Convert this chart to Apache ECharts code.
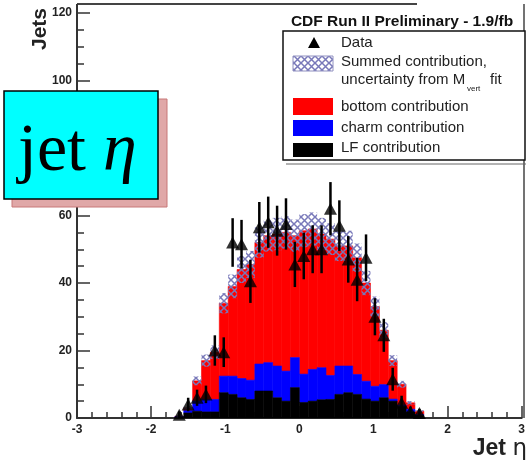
<!DOCTYPE html>
<html><head><meta charset="utf-8">
<script src="https://cdn.jsdelivr.net/npm/echarts@6/dist/echarts.min.js"></script>
<style>html,body{margin:0;padding:0;background:#fff}#c{width:528px;height:462px}</style>
</head><body><div id="c"></div>
<script>
// ---- data ----
const binCenters = [-1.62,-1.50,-1.38,-1.26,-1.14,-1.02,-0.90,-0.78,-0.66,-0.54,-0.42,-0.30,-0.18,-0.06,
                     0.06, 0.18, 0.30, 0.42, 0.54, 0.66, 0.78, 0.90, 1.02, 1.14, 1.26, 1.38, 1.50, 1.62];
const binWidth = 0.12;
const lfValues     = [0.2,1.5,2,1.8,1.8,7.5,7,6,5.5,8,8,6,5,9,4.6,5,5.4,5.5,7,7.5,7,5.6,5,6,5,3.5,1.8,0.8];
const charmValues  = [0.2,0.7,3,3.7,3.7,4.9,5.4,5.7,5.7,8,8.4,9.4,8.9,8.9,8.4,9.4,9.5,7.1,8.4,7.9,5.9,5.3,4.4,3.9,0.6,0.3,0.8,0.2];
const bottomValues = [0.1,0.8,6,11.5,14,21.6,26.6,32.3,34.3,36,37.6,39.1,41.1,36.1,42.5,41.6,39.6,40.4,35.6,35.6,34.6,29.1,23.6,16.1,11.4,6.2,1.9,1];
const sumUnc       = [0.3,0.5,1.3,1.8,2,3,3.5,4,4,4.5,4.7,4.8,4.8,4.8,4.9,4.9,4.8,4.7,4.5,4.5,4.2,3.6,3,2.4,1.6,1,0.5,0.3];
const dataValues   = [1,4,6,7,20,19.5,52,51.5,40.5,56.5,58,55.5,57.5,45.5,48,50,50,62,57,47,41,47.5,30,24.5,11.5,4.5,2,1.5];
const dataErr      = [1,2,2.4,2.6,4.5,4.4,7.2,7.2,6.4,7.5,7.6,7.4,7.6,6.7,6.9,7.1,7.1,7.9,7.5,6.9,6.4,6.9,5.5,4.9,3.4,2.1,1.4,1.2];
const xRange = [-3, 3];
const yRange = [0, 120];

// ---- hatch pattern for the summed-uncertainty band ----
const hatch = document.createElement('canvas');
hatch.width = 7; hatch.height = 7;
(function(){
  const g = hatch.getContext('2d');
  g.strokeStyle = 'rgba(120,120,185,1)';
  g.lineWidth = 1.5;
  g.beginPath();
  g.moveTo(0,0); g.lineTo(7,7);
  g.moveTo(7,0); g.lineTo(0,7);
  g.stroke();
})();
const hatchFill = {image: hatch, repeat: 'repeat'};

// ---- build rows ----
const lfRows = [], charmRows = [], bottomRows = [], bandRows = [], errRows = [], pointRows = [];
binCenters.forEach((c, i) => {
  const x0 = c - binWidth/2, x1 = c + binWidth/2;
  const a = lfValues[i], b = a + charmValues[i], s = b + bottomValues[i];
  lfRows.push([x0, x1, 0, a]);
  charmRows.push([x0, x1, a, b]);
  bottomRows.push([x0, x1, b, s]);
  bandRows.push([x0, x1, s - sumUnc[i], s + sumUnc[i]]);
  errRows.push([c, dataValues[i] - dataErr[i], dataValues[i] + dataErr[i]]);
  pointRows.push([c, dataValues[i]]);
});

function rectRender(fill, solid){
  return function(params, api){
    const p0 = api.coord([api.value(0), api.value(3)]);
    const p1 = api.coord([api.value(1), api.value(2)]);
    const st = {fill: fill};
    if (solid) { st.stroke = fill; st.lineWidth = 0.6; }
    return {type:'rect', shape:{x:p0[0], y:p0[1], width:p1[0]-p0[0], height:p1[1]-p0[1]}, style: st};
  };
}
function histSeries(rows, fill, solid){
  return {type:'custom', data: rows, renderItem: rectRender(fill, solid), encode:{x:[0,1], y:[2,3]}, silent:true, animation:false};
}

const axisFont = {fontFamily:'Liberation Sans, Arial, sans-serif', fontWeight:'bold', fontSize:12, color:'#222'};
const legendFont = '15px "Liberation Sans", Arial, sans-serif';

const option = {
  animation: false,
  grid: {left: 77, right: 2, top: 13, bottom: 44},
  xAxis: {
    type:'value', min: xRange[0], max: xRange[1], interval: 1,
    axisLine: {onZero:false, lineStyle:{color:'#333', width:2}},
    axisTick: {inside:true, length:12, lineStyle:{color:'#333', width:1.5}},
    minorTick: {show:true, splitNumber:5, length:6, lineStyle:{color:'#333', width:1.5}},
    axisLabel: Object.assign({margin:6}, axisFont),
    splitLine: {show:false}
  },
  yAxis: {
    type:'value', min: yRange[0], max: yRange[1], interval: 20,
    axisLine: {show:true, onZero:false, lineStyle:{color:'#333', width:2}},
    axisTick: {show:true, inside:true, length:13, lineStyle:{color:'#333', width:1.5}},
    minorTick: {show:true, splitNumber:4, length:7, lineStyle:{color:'#333', width:1.5}},
    axisLabel: Object.assign({margin:5}, axisFont),
    splitLine: {show:false}
  },
  series: [
    histSeries(bottomRows, '#ff0000', true),
    histSeries(charmRows, '#0000ff', true),
    histSeries(lfRows, '#000000', true),
    histSeries(bandRows, hatchFill, false),
    {type:'custom', data: errRows, encode:{x:0, y:[1,2]}, silent:true, animation:false,
     renderItem: function(params, api){
       const p0 = api.coord([api.value(0), api.value(1)]);
       const p1 = api.coord([api.value(0), api.value(2)]);
       return {type:'line', shape:{x1:p0[0], y1:p0[1], x2:p1[0], y2:p1[1]}, style:{stroke:'#000', lineWidth:2.5}};
     }},
    {type:'scatter', data: pointRows, symbol:'triangle', symbolSize:[13,12], itemStyle:{color:'#000'}, silent:true, animation:false, z:5}
  ],
  graphic: [
    // frame pieces
    {type:'line', shape:{x1:77, y1:4, x2:417, y2:4}, style:{stroke:'#444', lineWidth:2}},
    {type:'line', shape:{x1:77, y1:4, x2:77, y2:14}, style:{stroke:'#333', lineWidth:2}},
    {type:'line', shape:{x1:524, y1:4, x2:524, y2:418}, style:{stroke:'#444', lineWidth:1.5}},
    // axis titles
    {type:'text', x:40, y:29, rotation: Math.PI/2,
     style:{text:'Jets', font:'bold 21px "Liberation Sans", Arial, sans-serif', fill:'#222', align:'center', verticalAlign:'middle'}},
    {type:'text', x:527, y:449,
     style:{text:'{b|Jet }{n|η}', align:'right', verticalAlign:'middle',
            rich:{b:{font:'bold 23px "Liberation Sans", Arial, sans-serif', fill:'#222'},
                  n:{font:'23px "DejaVu Sans", "Liberation Sans", sans-serif', fill:'#222'}}}},
    // legend
    {type:'text', x:402, y:22,
     style:{text:'CDF Run II Preliminary - 1.9/fb', font:'bold 15.5px "Liberation Sans", Arial, sans-serif', fill:'#111', align:'center', verticalAlign:'middle'}},
    {type:'line', shape:{x1:286, y1:164, x2:526, y2:164}, style:{stroke:'#666', lineWidth:1}},
    {type:'rect', shape:{x:283, y:31, width:242, height:129}, style:{fill:'#fff', stroke:'#111', lineWidth:1.5}},
    {type:'polygon', shape:{points:[[314,37],[308,48],[320,48]]}, style:{fill:'#000'}},
    {type:'text', x:341, y:43, style:{text:'Data', font:legendFont, fill:'#222', verticalAlign:'middle'}},
    {type:'rect', shape:{x:293, y:56, width:40, height:15}, style:{fill:hatchFill, stroke:'#9090c0', lineWidth:1}},
    {type:'text', x:341, y:62, style:{text:'Summed contribution,', font:legendFont, fill:'#222', verticalAlign:'middle'}},
    {type:'text', x:341, y:80, style:{text:'uncertainty from M', font:legendFont, fill:'#222', verticalAlign:'middle'}},
    {type:'text', x:467, y:89, style:{text:'vert', font:'8px "Liberation Sans", Arial, sans-serif', fill:'#222', verticalAlign:'middle'}},
    {type:'text', x:490, y:80, style:{text:'fit', font:legendFont, fill:'#222', verticalAlign:'middle'}},
    {type:'rect', shape:{x:293, y:98, width:40, height:17}, style:{fill:'#ff0000'}},
    {type:'text', x:341, y:107, style:{text:'bottom contribution', font:legendFont, fill:'#222', verticalAlign:'middle'}},
    {type:'rect', shape:{x:293, y:120, width:40, height:16}, style:{fill:'#0000ff'}},
    {type:'text', x:341, y:128, style:{text:'charm contribution', font:legendFont, fill:'#222', verticalAlign:'middle'}},
    {type:'rect', shape:{x:293, y:143, width:40, height:14}, style:{fill:'#000'}},
    {type:'text', x:341, y:148, style:{text:'LF contribution', font:legendFont, fill:'#222', verticalAlign:'middle'}},
    // "jet η" label box
    {type:'rect', shape:{x:12, y:99, width:155, height:108}, style:{fill:'#e0a8a8', stroke:'#c87878', lineWidth:1}, z:10},
    {type:'rect', shape:{x:4, y:91, width:154, height:108}, style:{fill:'#00ffff', stroke:'#000', lineWidth:1.5}, z:11},
    {type:'text', x:18, y:152, z:12,
     style:{text:'{r|jet }{i|η}', verticalAlign:'middle',
            rich:{r:{font:'68px "Liberation Serif", "Times New Roman", serif', fill:'#000'},
                  i:{font:'italic 68px "Liberation Serif", "Times New Roman", serif', fill:'#000'}}}}
  ]
};
const chart = echarts.init(document.getElementById('c'), null, {renderer:'canvas'});
chart.setOption(option);
</script>
</body></html>
